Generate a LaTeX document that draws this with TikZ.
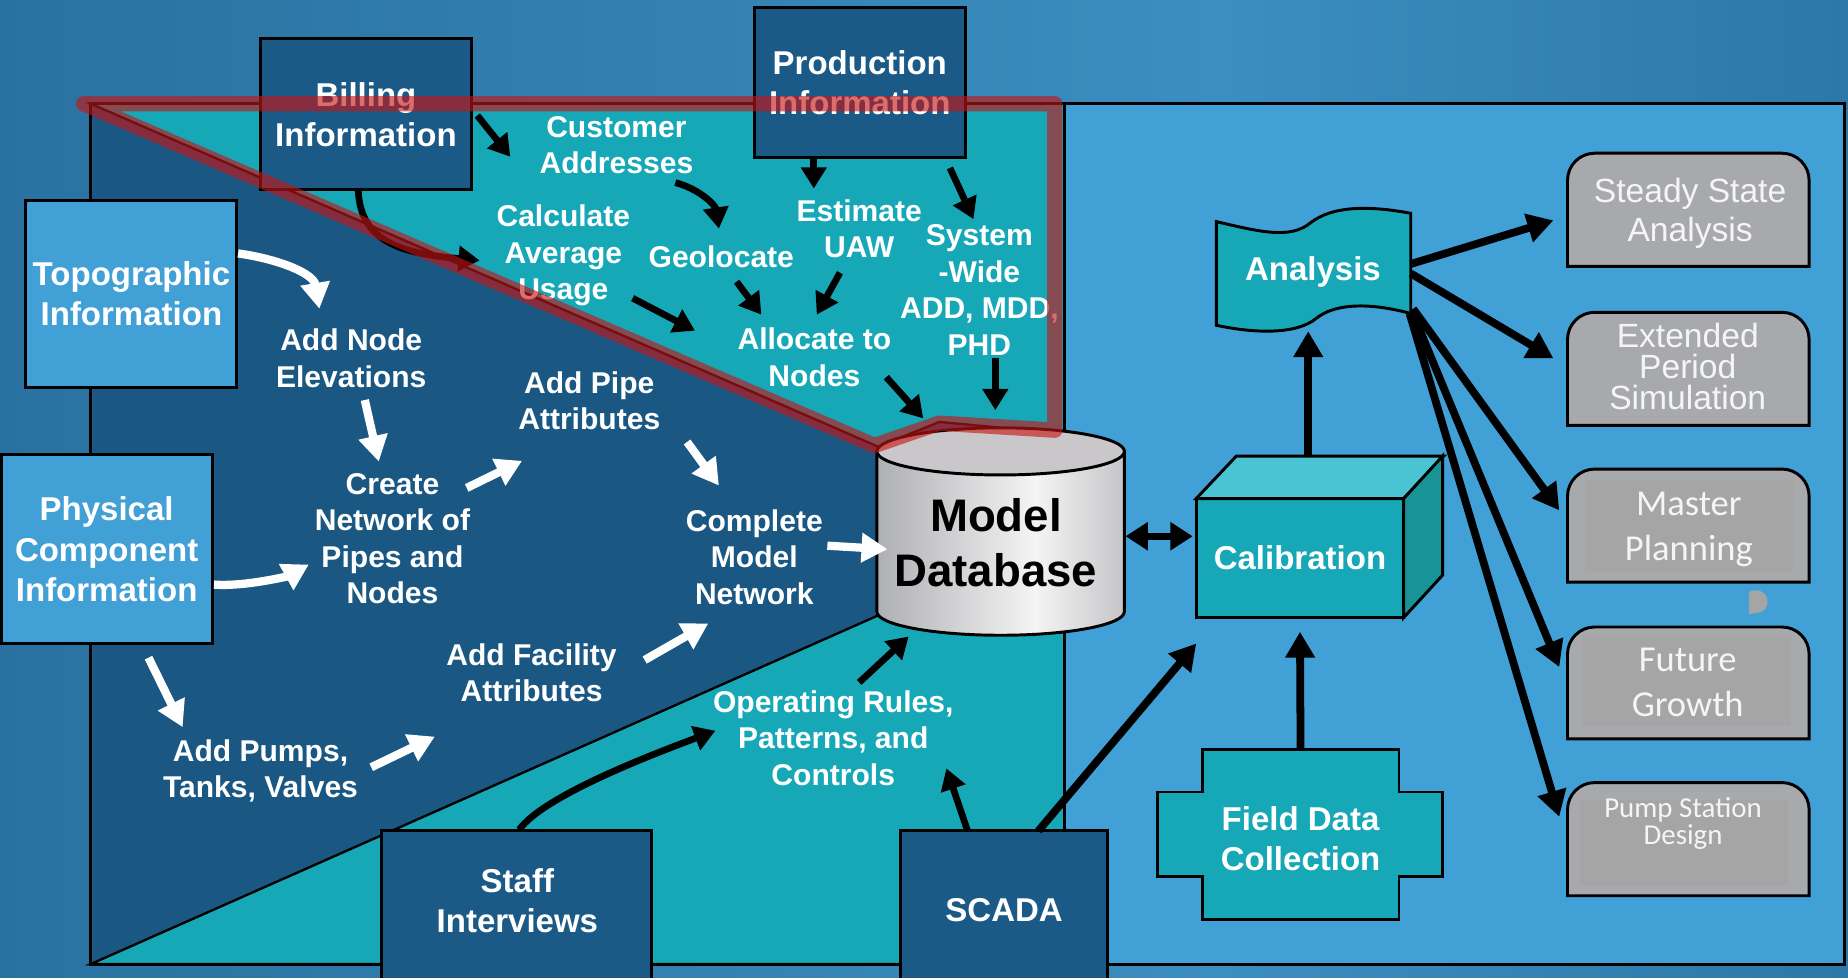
\documentclass[tikz,border=0pt]{standalone}
\usepackage{fontspec}
\setmainfont{Liberation Sans}
\newfontfamily\carlitofont{Carlito}
\usetikzlibrary{arrows.meta,calc}

\definecolor{bgL}{HTML}{1B5B88}
\definecolor{bgM}{HTML}{3B8EC0}
\definecolor{bgR}{HTML}{165784}
\definecolor{panelDark}{HTML}{1A5883}
\definecolor{boxDark}{HTML}{1B5A86}
\definecolor{skyBlue}{HTML}{41A0D6}
\definecolor{tealFill}{HTML}{17A8B8}
\definecolor{tealTop}{HTML}{4AC4D2}
\definecolor{tealSide}{HTML}{1A9396}
\definecolor{grayBox}{HTML}{A8A9AD}
\definecolor{grayInner}{HTML}{A5A5A6}
\definecolor{grayText}{HTML}{F5F5F5}
\definecolor{hlRed}{HTML}{C81414}
\definecolor{cylTop}{HTML}{C9C7C9}
\definecolor{cylEdgeL}{HTML}{86878B}
\definecolor{cylMid}{HTML}{A8A9AD}
\definecolor{cylHi}{HTML}{F4F4F4}
\definecolor{cylEdgeR}{HTML}{797A7E}

\pgfdeclarehorizontalshading{bgshade}{100bp}{color(0bp)=(bgL); color(58bp)=(bgM); color(100bp)=(bgR)}
\pgfdeclarehorizontalshading{cylshade}{100bp}{color(0bp)=(cylEdgeL); color(22bp)=(cylMid); color(57bp)=(cylHi); color(86bp)=(cylMid); color(100bp)=(cylEdgeR)}

\begin{document}
\begin{tikzpicture}[x=0.5pt,y=-0.5pt,
  every node/.style={inner sep=0pt, outer sep=0pt},
  ttl/.style={font=\fontsize{14}{17}\selectfont\bfseries, text=white, align=center},
  lbl/.style={font=\fontsize{12.75}{15.5}\selectfont\bfseries, text=white, align=center},
  darkbox/.style={draw=black, line width=1.25pt, fill=boxDark, ttl},
  skybox/.style={draw=black, line width=1.25pt, fill=skyBlue, ttl},
  edge/.style={draw=black, line width=1.25pt},
  graytxt/.style={text=grayText, align=center},
  blk/.style={draw=black, line width=2.85pt, -{Triangle[length=9pt,width=10.5pt]}},
  blkR/.style={draw=black, line width=3.3pt, -{Triangle[length=11pt,width=12pt]}},
  wht/.style={draw=white, line width=3.5pt, -{Triangle[length=11pt,width=12pt]}},
  hl/.style={draw=hlRed, line width=6.5pt, line join=round, line cap=round, opacity=0.62}]

\useasboundingbox (0,0) rectangle (1568,829);

% backdrop
\shade[shading=bgshade] (0,0) rectangle (1568,829);

% the two panels
\draw[edge, fill=panelDark] (77,88) rectangle (903,818);
\draw[edge, fill=skyBlue] (903,88) rectangle (1565,818);

% teal wedges of the model-building panel
\draw[draw=black, line width=1pt, fill=tealFill] (77,88) -- (903,88) -- (903,368) -- (797,358) -- (745,379) -- cycle;
\draw[draw=black, line width=1pt, fill=tealFill] (77,818) -- (750,520) -- (903,520) -- (903,818) -- cycle;

% data source boxes
\node[darkbox, minimum width=89.5pt, minimum height=64pt] (billing) at (310.5,97) {Billing\\Information};
\node[darkbox, minimum width=89.5pt, minimum height=64pt] (prod) at (729.5,70) {Production\\Information};
\node[skybox, minimum width=89.5pt, minimum height=79.5pt] (topo) at (111.5,249.5) {Topographic\\Information};
\node[skybox, minimum width=89.5pt, minimum height=80pt] (phys) at (90.5,466) {Physical\\Component\\Information};
\node[darkbox, minimum width=114.5pt, minimum height=67.5pt] (staff) at (438.5,772.5) {};
\node[ttl] (stafftext) at (439,764.5) {Staff\\Interviews};
\node[darkbox, minimum width=88pt, minimum height=67.5pt] (scada) at (852,772.5) {SCADA};

% model database cylinder
\draw[edge, shade, shading=cylshade] (744,383) -- (744,519) .. controls (744,530) and (791,539) .. (849,539) .. controls (907,539) and (954,530) .. (954,519) -- (954,383) -- cycle;
\draw[edge, fill=cylTop] (849,383) ellipse [x radius=105, y radius=20];
\node[font=\fontsize{19.35}{23.5}\selectfont\bfseries, align=center] (mdb) at (845,460.5) {Model\\Database};

% analysis flag
\draw[edge, fill=tealFill] (1032,188) .. controls (1070,197) and (1095,203) .. (1112,189) .. controls (1130,175) and (1160,174) .. (1197,181) -- (1197,266) .. controls (1160,256) and (1132,258) .. (1117,270) .. controls (1100,284) and (1065,283) .. (1032,276) -- cycle;
\node[ttl] (analysis) at (1114,231) {Analysis};

% calibration cube
\node[draw=black, line width=1.25pt, fill=tealFill, minimum width=88pt, minimum height=50.5pt, ttl] (calib) at (1103,473.5) {Calibration};
\draw[edge, fill=tealTop] (calib.north west) -- ++(34,-36) -- ++(176,0) -- (calib.north east) -- cycle;
\draw[edge, fill=tealSide] (calib.north east) -- ++(33,-36) -- ++(0,101) -- (calib.south east) -- cycle;

% field data collection (cross)
\draw[edge, fill=tealFill] (1020,636) -- (1187,636) -- (1187,672) -- (1224,672) -- (1224,744) -- (1187,744) -- (1187,780) -- (1020,780) -- (1020,744) -- (982,744) -- (982,672) -- (1020,672) -- cycle;
\node[ttl, minimum width=83.5pt, minimum height=76pt] (field) at (1103.5,712) {Field Data\\Collection};

% application boxes
\foreach \t/\b in {130/226, 265/361, 398/494, 532/627, 664/760}
  \draw[edge, fill=grayBox] (1330,\b) -- (1330,\t+23) .. controls (1330,\t+10.3) and (1340.3,\t) .. (1353,\t) -- (1512,\t) .. controls (1524.7,\t) and (1535,\t+10.3) .. (1535,\t+23) -- (1535,\b) -- cycle;
\fill[grayInner] (1345,407) rectangle (1521,485);
\fill[grayInner] (1342,539) rectangle (1520,616);
\fill[grayInner] (1341,679) rectangle (1517,752);
\fill[grayInner] (1484,521) -- (1484,503) .. controls (1484,501) and (1486,501) .. (1490,501) .. controls (1503,501) and (1503,520) .. (1490,520) -- cycle;

\node[graytxt, font=\fontsize{14.25}{16.5}\selectfont] (ss) at (1434,181) {Steady State\\Analysis};
\node[graytxt, font=\fontsize{14.25}{13.25}\selectfont] (eps) at (1432,311) {Extended\\Period\\Simulation};
\node[graytxt, font=\carlitofont\fontsize{15.5}{19}\selectfont] (mp) at (1433,449) {Master\\Planning};
\node[graytxt, font=\carlitofont\fontsize{15.5}{19}\selectfont] (fg) at (1432,579) {Future\\Growth};
\node[graytxt, font=\carlitofont\fontsize{12.25}{11.5}\selectfont] (psd) at (1428,699) {Pump Station\\Design};

% process steps
\node[lbl] (cust) at (523,123) {Customer\\Addresses};
\node[lbl] (calc) at (478,217) {Calculate\\Average\\Usage};
\node[lbl] (geo) at (612,218) {Geolocate};
\node[lbl] (est) at (729,194) {Estimate\\UAW};
\node[lbl] (sysw) at (831,246) {System\\-Wide\\ADD, MDD,\\PHD};
\node[lbl] (alloc) at (691,303) {Allocate to\\Nodes};
\node[lbl] (addnode) at (298,304) {Add Node\\Elevations};
\node[lbl] (addpipe) at (500,340) {Add Pipe\\Attributes};
\node[lbl] (create) at (333,457) {Create\\Network of\\Pipes and\\Nodes};
\node[lbl] (complete) at (640,472.5) {Complete\\Model\\Network};
\node[lbl] (addfac) at (451,571) {Add Facility\\Attributes};
\node[lbl] (addpumps) at (221,654) {Add Pumps,\\Tanks, Valves};
\node[lbl] (oper) at (707,626) {Operating Rules,\\Patterns, and\\Controls};

% black flows
\draw[blk] ($(billing)+(94.5,1)$) -- ($(cust)+(-90,10)$);
\draw[blk] ($(billing)+(-6.5,65)$) .. controls (306,205) and (340,215) .. ($(calc)+(-71,4)$);
\draw[blk] ($(cust)+(50,32)$) .. controls (593,160) and (607,174) .. ($(geo)+(-2,-24)$);
\draw[blk] ($(prod)+(-39,64)$) -- ($(est)+(-38.5,-34)$);
\draw[blk] ($(prod)+(76.5,72.5)$) -- ($(sysw)+(-5,-60)$);
\draw[blk] ($(geo)+(13,21)$) -- ($(alloc)+(-45,-36)$);
\draw[blk] ($(est)+(-16.3,37.4)$) -- ($(alloc)+(2,-36)$);
\draw[blk] ($(calc)+(58.8,36)$) -- ($(alloc)+(-101.3,-22.4)$);
\draw[blk] ($(alloc)+(61,17)$) -- ($(mdb)+(-61.6,-105.5)$);
\draw[blk] ($(sysw)+(13.5,58)$) -- ($(mdb)+(-0.5,-112.5)$);
\draw[blk] ($(staff)+(2,-68.5)$) .. controls (462,674) and (562,637) .. ($(oper)+(-100,-6)$);
\draw[blk] ($(scada)+(-31,-67.5)$) -- ($(oper)+(96,26)$);
\draw[blk] ($(oper)+(22,-47)$) -- ($(mdb)+(-74,79.5)$);

% right-hand flows
\draw[blkR] ($(calib)+(7,-86.5)$) -- ($(analysis)+(-4,50)$);
\draw[blkR] (field.north) -- ($(calib)+(0,62.5)$);
\draw[blkR] ($(scada)+(29,-67.5)$) -- ($(calib)+(-88,72.5)$);
\draw[draw=black, line width=3pt, {Triangle[length=9.5pt,width=11.5pt]}-{Triangle[length=9.5pt,width=11.5pt]}] ($(mdb)+(110,-5.5)$) -- ($(calib)+(-91,-18.5)$);
\draw[blkR] ($(analysis)+(83,-7)$) -- ($(ss)+(-116,6)$);
\draw[blkR] ($(analysis)+(83,1)$) -- ($(eps)+(-114,-7)$);
\draw[blkR] ($(analysis)+(85,31)$) -- ($(mp)+(-110,-16)$);
\draw[blkR] ($(analysis)+(84,33)$) -- ($(fg)+(-109,-13)$);
\draw[blkR] ($(analysis)+(82,35)$) -- ($(psd)+(-105,-6)$);

% white flows
\draw[wht] ($(topo)+(90.5,-34.5)$) .. controls (237,220) and (266,232) .. ($(addnode)+(-27,-42)$);
\draw[wht] ($(addnode)+(11.5,35.4)$) -- ($(create)+(-11.6,-65.3)$);
\draw[wht] ($(create)+(63,-43)$) -- ($(addpipe)+(-57,51)$);
\draw[wht] ($(addpipe)+(83,35)$) -- ($(complete)+(-30,-60.5)$);
\draw[wht] ($(phys)+(91,30)$) .. controls (206.5,498) and (244,489) .. ($(create)+(-71,22)$);
\draw[wht] ($(complete)+(62,-9.5)$) -- ($(mdb)+(-92,5.5)$);
\draw[wht] ($(addfac)+(96,-11)$) -- ($(complete)+(-39,56.5)$);
\draw[wht] ($(phys)+(35.5,92)$) -- ($(addpumps)+(-66,-37)$);
\draw[wht] ($(addpumps)+(94,-3)$) -- ($(addfac)+(-82,54)$);

% highlighted demand-allocation region
\draw[hl] (71,88) -- (895,88) -- (895,365) -- (797,359) -- (742,378) -- cycle;

\end{tikzpicture}
\end{document}
